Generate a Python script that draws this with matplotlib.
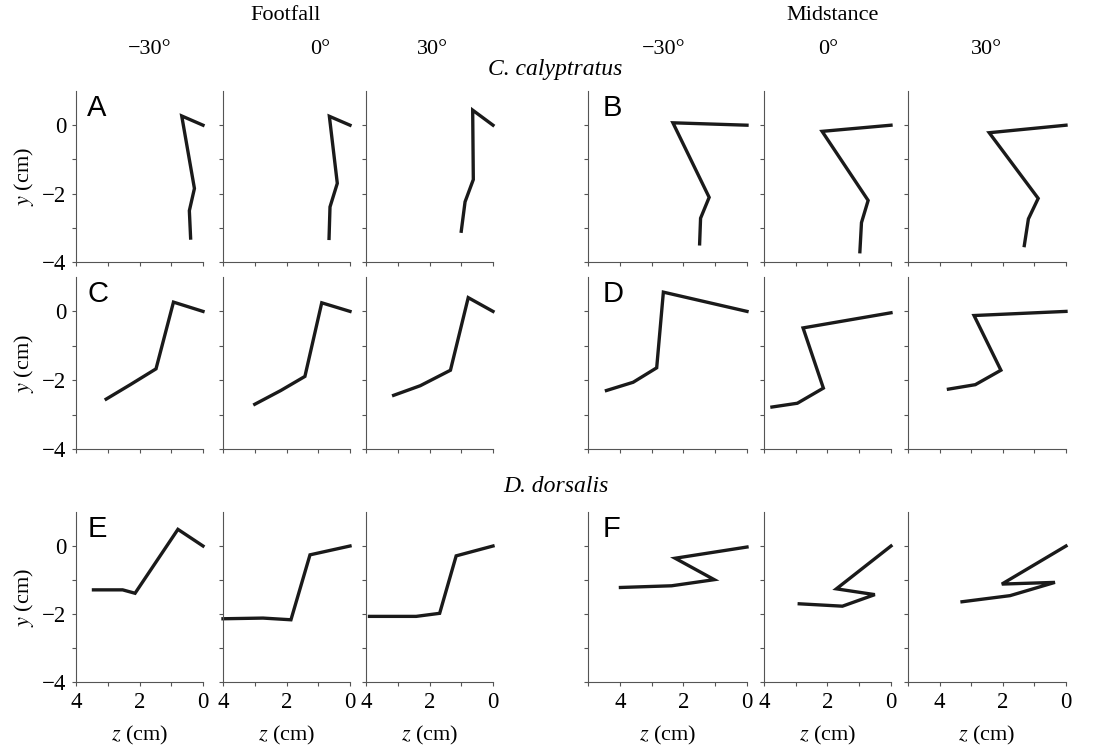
import numpy as np
import matplotlib
matplotlib.use('Agg')
import matplotlib.pyplot as plt

plt.rcParams['font.family'] = 'Liberation Serif'
plt.rcParams['mathtext.fontset'] = 'stix'

###data### (z, y) in cm
phases = ['Footfall', 'Midstance']
angles = ['\u221230\u00b0', '0\u00b0', '30\u00b0']
species = ['C. calyptratus', 'D. dorsalis']
letters = ['A', 'B', 'C', 'D', 'E', 'F']

# row 1 - C. calyptratus (A, B)
A_z = [[0, 0.67, 0.27, 0.43, 0.39], [0, 0.65, 0.40, 0.63, 0.66], [0, 0.64, 0.62, 0.88, 1.00]]
A_y = [[0, 0.27, -1.85, -2.50, -3.30], [0, 0.26, -1.70, -2.39, -3.31], [0, 0.44, -1.59, -2.24, -3.10]]
B_z = [[0, 2.33, 1.19, 1.46, 1.49], [0, 2.17, 0.72, 0.93, 0.98], [0, 2.43, 0.88, 1.19, 1.32]]
B_y = [[0, 0.07, -2.11, -2.72, -3.47], [0, -0.18, -2.20, -2.85, -3.70], [0, -0.22, -2.14, -2.74, -3.52]]
# row 2 - C. calyptratus (C, D)
C_z = [[0, 0.93, 1.48, 2.29, 3.05], [0, 0.89, 1.42, 2.18, 3.00], [0, 0.78, 1.34, 2.29, 3.13]]
C_y = [[0, 0.27, -1.67, -2.13, -2.55], [0, 0.25, -1.89, -2.30, -2.70], [0, 0.40, -1.71, -2.16, -2.44]]
D_z = [[0, 2.63, 2.84, 3.58, 4.42], [0, 2.77, 2.13, 2.95, 3.75], [0, 2.91, 2.06, 2.87, 3.72]]
D_y = [[0, 0.56, -1.64, -2.06, -2.30], [-0.04, -0.48, -2.23, -2.67, -2.78], [0, -0.12, -1.71, -2.13, -2.26]]
# row 3 - D. dorsalis (E, F)
E_z = [[0, 0.79, 2.14, 2.53, 3.45], [0, 1.26, 1.86, 2.74, 4.00], [0, 1.16, 1.68, 2.42, 3.89]]
E_y = [[0, 0.49, -1.39, -1.29, -1.29], [0, -0.26, -2.17, -2.12, -2.14], [0, -0.29, -1.98, -2.07, -2.07]]
F_z = [[0, 2.26, 1.03, 2.37, 3.98], [0, 1.72, 0.51, 1.53, 2.89], [0, 2.03, 0.35, 1.77, 3.29]]
F_y = [[-0.03, -0.36, -0.99, -1.17, -1.22], [0, -1.26, -1.43, -1.77, -1.70], [0, -1.12, -1.07, -1.46, -1.64]]

panels = [(A_z, A_y), (B_z, B_y), (C_z, C_y), (D_z, D_y), (E_z, E_y), (F_z, F_y)]
# x range (max z) of each column
col_zmax = [4, 4, 4, 5, 4, 5]

W, H = 1112, 750
col_px = [(76, 203), (223, 350), (366, 493), (588, 747), (764, 891), (908, 1066)]
row_px = [(91, 262), (277, 449), (512, 682)]
angle_x = [150, 320, 432, 664, 828, 987]   # header positions, not quite centred in the original
phase_x = [286, 833]

fig = plt.figure(figsize=(W / 100, H / 100), dpi=100)

for r, (top, bot) in enumerate(row_px):
    for c, (left, right) in enumerate(col_px):
        ax = fig.add_axes([left / W, 1 - bot / H, (right - left) / W, (bot - top) / H])
        zs, ys = panels[r * 2 + c // 3]
        ax.plot(zs[c % 3], ys[c % 3], color='#1a1a1a', lw=2.4, solid_joinstyle='miter', clip_on=False)
        zmax = col_zmax[c]
        ax.set_xlim(zmax, 0)
        ax.set_ylim(-4, 1)
        ax.set_xticks(range(zmax, -1, -1))
        ax.set_yticks(range(-4, 1))
        for s in ['top', 'right']:
            ax.spines[s].set_visible(False)
        for s in ['left', 'bottom']:
            ax.spines[s].set_color('#555555')
            ax.spines[s].set_linewidth(0.8)
        ax.tick_params(direction='out', length=3, width=0.8, color='#555555',
                       labelsize=16.5, pad=4)
        if r == 2:
            ax.set_xticklabels([str(v) if v % 2 == 0 and v < 5 else '' for v in range(zmax, -1, -1)])
            ax.set_xlabel('$z$ (cm)', fontsize=16, labelpad=8)
        else:
            ax.set_xticklabels([])
        if c == 0:
            ax.set_yticklabels(['\u22124', '', '\u22122', '', '0'])
            ax.set_ylabel('$y$ (cm)', fontsize=16, labelpad=4)
        else:
            ax.set_yticklabels([])
        if c % 3 == 0:
            ax.text(0.09, 0.98, letters[r * 2 + c // 3], transform=ax.transAxes,
                    family='Liberation Sans', fontsize=21, ha='left', va='top')

# column headings
for i, phase in enumerate(phases):
    fig.text(phase_x[i] / W, 1 - 15 / H, phase, ha='center', va='center', fontsize=16)
    for j in range(3):
        fig.text(angle_x[i * 3 + j] / W, 1 - 50 / H, angles[j], ha='center', va='center', fontsize=16)

fig.text(555 / W, 1 - 69 / H, species[0], ha='center', va='center', fontsize=17, style='italic')
fig.text(556 / W, 1 - 486 / H, species[1], ha='center', va='center', fontsize=17, style='italic')

fig.savefig('out.png', dpi=100)
